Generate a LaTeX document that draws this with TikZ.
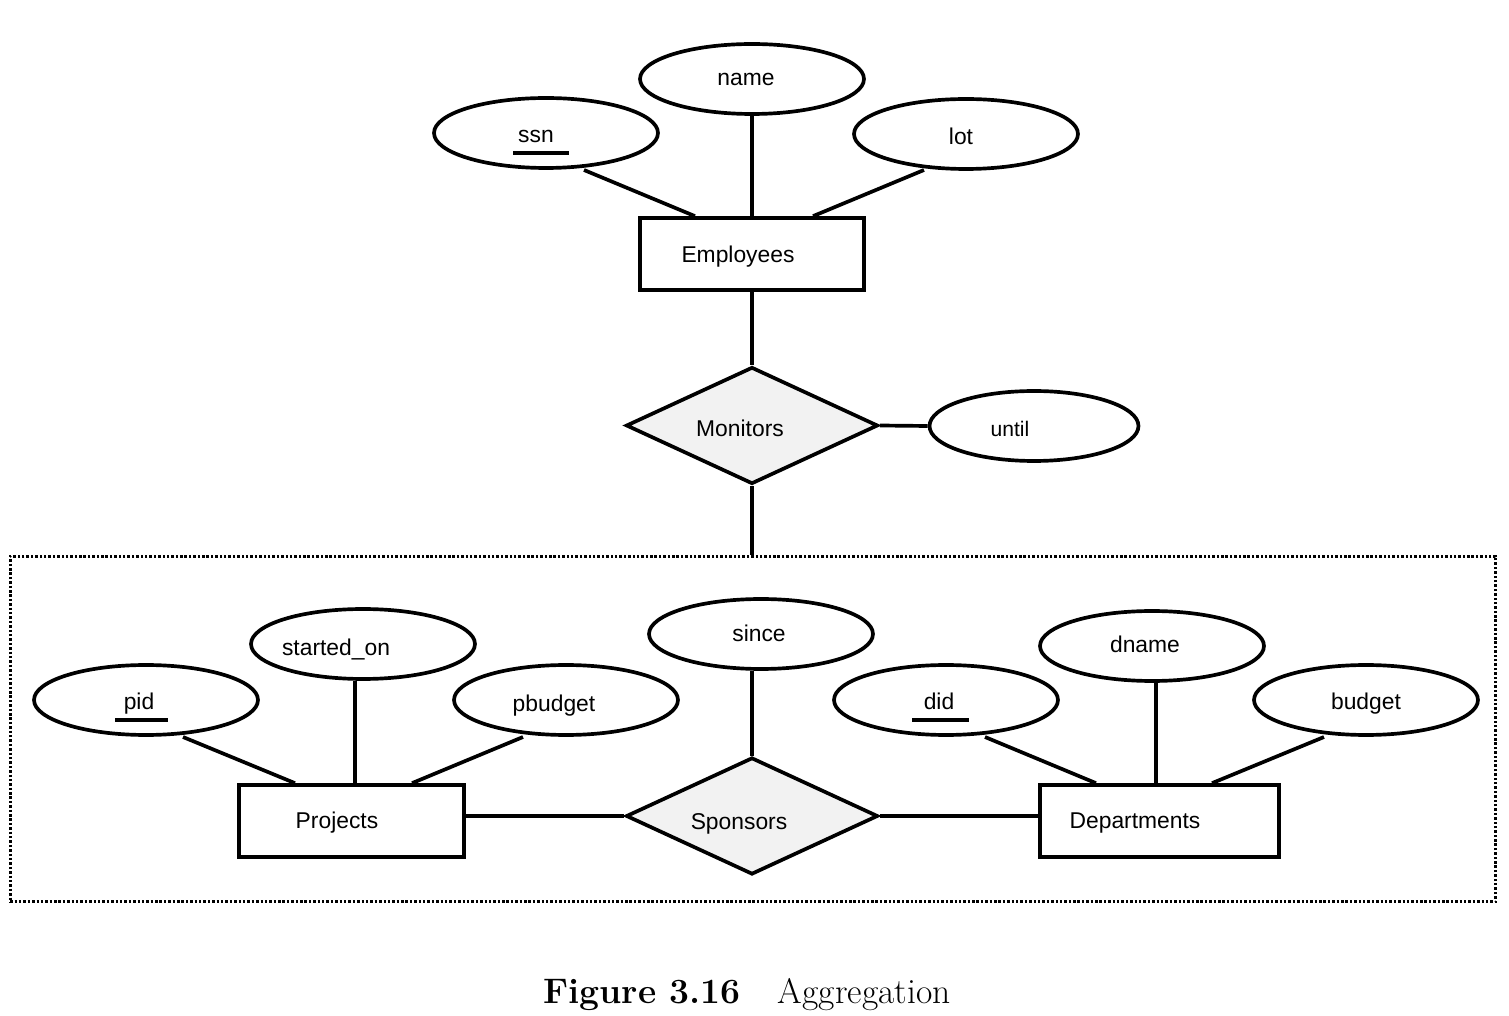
\documentclass[tikz,border=0pt]{standalone}
\usepackage{fontspec}
\newfontfamily\erfont{Liberation Sans}
\usetikzlibrary{shapes.geometric,calc}
\definecolor{relfill}{RGB}{242,242,242}
\begin{document}
\begin{tikzpicture}[x=0.02cm,y=-0.02cm,
  ln/.style={line width=2.1pt},
  att/.style={draw,ellipse,line width=2.1pt,minimum width=4.48cm,minimum height=1.4cm,inner sep=0pt},
  ent/.style={draw,rectangle,line width=2.1pt,minimum height=1.44cm,inner sep=0pt},
  rel/.style={draw,diamond,fill=relfill,line width=2.1pt,minimum width=5.04cm,minimum height=2.34cm,inner sep=0pt},
  lbl/.style={font=\erfont\fontsize{13}{15}\selectfont,anchor=base,inner sep=0pt},
  slbl/.style={font=\erfont\fontsize{12}{14}\selectfont,anchor=base,inner sep=0pt},
  key/.style={line width=2.2pt},
  agg/.style={draw,line width=1.7pt,dash pattern=on 1.4pt off 1.1pt,minimum width=29.72cm,minimum height=6.92cm,inner sep=0pt},
  captext/.style={font=\fontsize{20.2}{24}\selectfont,anchor=base,inner sep=0pt}
]
\useasboundingbox (0,0) rectangle (1509,1016);

% ---------- Employees part ----------
\node[att] (ssn) at (546,133) {};
\node[lbl] (ssnt) at (536,143) {ssn};
\draw[key] (513,153) -- (569,153);
\node[att] (name) at (752,79) {};
\node[lbl] (namet) at (746,86) {name};
\node[att] (lot) at (966,134) {};
\node[lbl] (lott) at (961,145) {lot};

\node[ent,minimum width=4.48cm] (emp) at (752,254) {};
\node[lbl] (empt) at (738,263) {Employees};

\draw[ln] ($(ssn.center)+(38,37)$) -- ($(emp.north)+(-57,0)$);
\draw[ln] (name.south) -- (emp.north);
\draw[ln] ($(lot.center)+(-42,36)$) -- ($(emp.north)+(61,0)$);

\node[rel] (mon) at (752,425.5) {};
\node[lbl] (mont) at (740,437) {Monitors};
\node[att,minimum width=4.18cm] (until) at (1034,426) {};
\node[slbl] (untilt) at (1010,437) {until};

\draw[ln] (emp.south) -- (mon.north);
\draw[ln] (mon.east) -- (until.west);

% ---------- Aggregation box ----------
\node[agg] (agg) at (753,729) {};
\draw[ln] (mon.south) -- (mon.south |- agg.north);

\node[rel] (spon) at (752,816) {};
\node[lbl] (spont) at (739,829) {Sponsors};
\node[att] (since) at (761,634) {};
\node[lbl] (sincet) at (759,642) {since};
\draw[ln] (spon.north |- since.south) -- (spon.north);

% Projects
\node[ent,minimum width=4.5cm] (proj) at (351.5,821) {};
\node[lbl] (projt) at (337,828) {Projects};
\node[att] (pid) at (146,700) {};
\node[lbl] (pidt) at (139,710) {pid};
\draw[key] (115,720) -- (168,720);
\node[att] (so) at (363,644) {};
\node[lbl] (sot) at (336,656) {started\_on};
\node[att] (pb) at (566,700) {};
\node[lbl] (pbt) at (554,712) {pbudget};

\draw[ln] ($(pid.center)+(37,37)$) -- ($(proj.north)+(-56.5,0)$);
\draw[ln] ($(proj.north)+(3.5,0)$) coordinate (pso) -- (pso |- so.south);
\draw[ln] ($(pb.center)+(-43,37)$) -- ($(proj.north)+(60.5,0)$);
\draw[ln] (spon.west) -- (spon.west -| proj.east);

% Departments
\node[ent,minimum width=4.78cm] (dept) at (1159.5,821) {};
\node[lbl] (deptt) at (1135,828) {Departments};
\node[att] (did) at (946,700) {};
\node[lbl] (didt) at (939,710) {did};
\draw[key] (912,720) -- (969,720);
\node[att] (dname) at (1152,646) {};
\node[lbl] (dnamet) at (1145,653) {dname};
\node[att] (bud) at (1366,700) {};
\node[lbl] (budt) at (1366,710) {budget};

\draw[ln] ($(did.center)+(39,37)$) -- ($(dept.north)+(-63.5,0)$);
\draw[ln] ($(dept.north)+(-3.5,0)$) coordinate (pdn) -- (pdn |- dname.south);
\draw[ln] ($(bud.center)+(-42,37)$) -- ($(dept.north)+(52.5,0)$);
\draw[ln] (spon.east) -- (spon.east -| dept.west);

% ---------- Caption ----------
\node[captext] (caption) at (747,1003) {\textbf{Figure 3.16}\hspace{1.05em}Aggregation};
\end{tikzpicture}
\end{document}
